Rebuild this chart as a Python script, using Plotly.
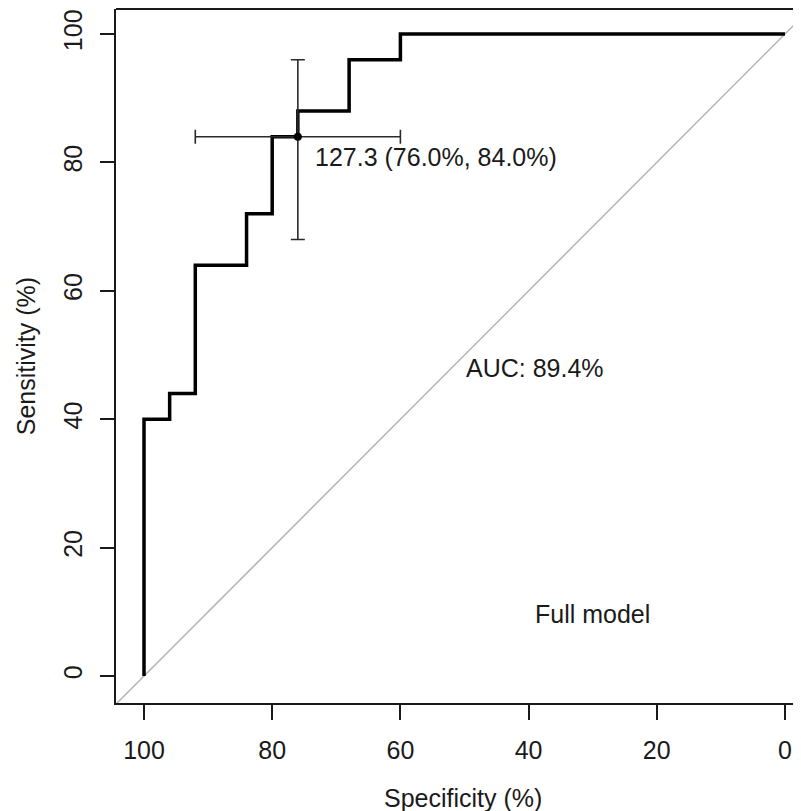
import plotly.graph_objects as go

# ROC curve (percent)
specificity = [100, 100, 96, 96, 92, 92, 84, 84, 80, 80, 76, 76, 68, 68, 60, 60, 0]
sensitivity = [0, 40, 40, 44, 44, 64, 64, 72, 72, 84, 84, 88, 88, 96, 96, 100, 100]

# best threshold with CI
thr_spec = [76.0]
thr_sens = [84.0]
thr_spec_ci = [60.0, 92.0]
thr_sens_ci = [68.0, 96.0]
thr_label = "127.3 (76.0%, 84.0%)"
auc_label = "AUC: 89.4%"
model_label = "Full model"

tick_vals = [100, 80, 60, 40, 20, 0]
tick_text = ["100", "80", "60", "40", "20", "0"]

FONT = "Liberation Sans, Arial, sans-serif"
TXT = "#1a1a1a"

fig = go.Figure()

# chance diagonal
fig.add_trace(go.Scatter(x=[110, -10], y=[-10, 110], mode="lines",
                         line=dict(color="#b4b4b4", width=1.5),
                         hoverinfo="skip", showlegend=False))

# ROC curve
fig.add_trace(go.Scatter(x=specificity, y=sensitivity, mode="lines",
                         line=dict(color="black", width=3.5),
                         showlegend=False))

# threshold point with CI
fig.add_trace(go.Scatter(
    x=thr_spec, y=thr_sens, mode="markers",
    marker=dict(color="black", size=8),
    error_x=dict(type="data", symmetric=False,
                 array=[thr_spec_ci[1] - thr_spec[0]],
                 arrayminus=[thr_spec[0] - thr_spec_ci[0]],
                 color="#2a2a2a", thickness=1.6, width=7),
    error_y=dict(type="data", symmetric=False,
                 array=[thr_sens_ci[1] - thr_sens[0]],
                 arrayminus=[thr_sens[0] - thr_sens_ci[0]],
                 color="#2a2a2a", thickness=1.6, width=7),
    showlegend=False))

annots = [
    dict(x=73.6, y=80.8, text=thr_label, xanchor="left", yanchor="middle"),
    dict(x=50, y=48, text=auc_label, xanchor="left", yanchor="middle"),
    dict(x=30, y=9.7, text=model_label, xanchor="center", yanchor="middle"),
]
for a in annots:
    fig.add_annotation(xref="x", yref="y", showarrow=False,
                       font=dict(family=FONT, size=25, color=TXT), **a)

# axis titles
fig.add_annotation(xref="paper", yref="paper", x=0.5066, y=-0.137,
                   text="Specificity (%)", showarrow=False,
                   xanchor="center", yanchor="middle",
                   font=dict(family=FONT, size=25, color=TXT))
fig.add_annotation(xref="paper", yref="paper", x=-0.131, y=0.5,
                   text="Sensitivity (%)", showarrow=False, textangle=-90,
                   xanchor="center", yanchor="middle",
                   font=dict(family=FONT, size=25, color=TXT))

# top box line
fig.add_shape(type="line", xref="paper", yref="paper", x0=0, x1=1, y0=1, y1=1,
              line=dict(color="#1a1a1a", width=2))

fig.update_xaxes(range=[104.37, -2.5], tickvals=tick_vals, ticktext=tick_text,
                 showgrid=False, zeroline=False, showline=True,
                 linecolor="#1a1a1a", linewidth=2,
                 ticks="outside", ticklen=15, tickwidth=2, tickcolor="#1a1a1a",
                 ticklabelstandoff=9,
                 tickfont=dict(family=FONT, size=25, color=TXT))
fig.update_yaxes(range=[-4.2, 103.9], tickvals=tick_vals, ticktext=tick_text,
                 showgrid=False, zeroline=False, showline=True,
                 linecolor="#1a1a1a", linewidth=2,
                 ticks="outside", ticklen=14, tickwidth=2, tickcolor="#1a1a1a",
                 tickangle=-90, ticklabelstandoff=8,
                 tickfont=dict(family=FONT, size=25, color=TXT))

# page body adds an 8px offset; figure covers the visible 793x803 area
fig.update_layout(width=793, height=803,
                  margin=dict(l=108, r=0, t=1, b=108),
                  plot_bgcolor="white", paper_bgcolor="white",
                  showlegend=False)

fig.write_html("out.html")
